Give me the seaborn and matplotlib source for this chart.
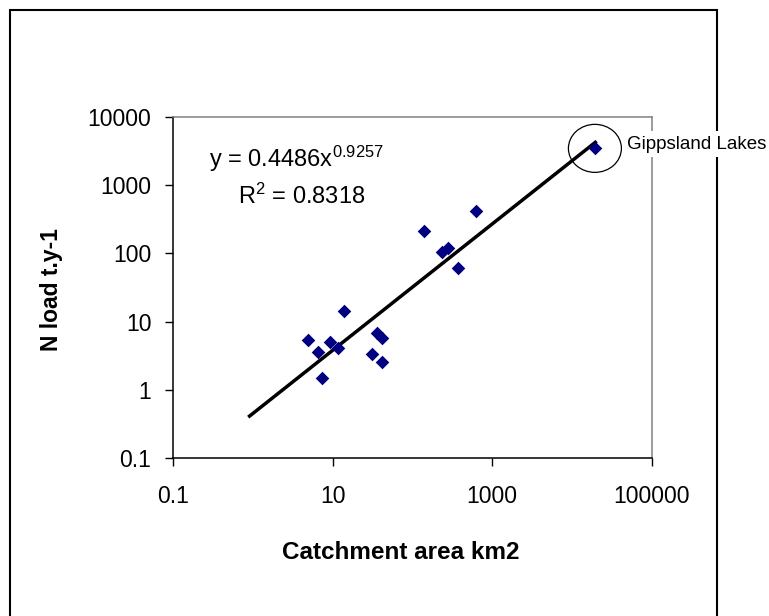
import matplotlib
matplotlib.use("Agg")
import matplotlib.pyplot as plt
from matplotlib.patches import Ellipse, Rectangle
from matplotlib.transforms import ScaledTranslation
from matplotlib.ticker import FixedLocator, FixedFormatter, NullLocator
import seaborn as sns
import pandas as pd

# ---- data ----
catchment_area = [4.85, 6.47, 7.26, 9.23, 11.7, 13.8, 30.8, 35.6, 41.1, 41.1,
                  139, 232, 281, 375, 625, 19400]
n_load = [5.35, 3.64, 1.51, 5.09, 4.08, 14.5, 3.37, 6.9, 5.7, 2.6,
          215, 103, 121, 61.7, 417, 3440]
trend_x = [0.87, 20400]
trend_y = [0.40, 4370]
x_ticks = [0.1, 10, 1000, 100000]
x_tick_labels = ["0.1", "10", "1000", "100000"]
y_ticks = [0.1, 1, 10, 100, 1000, 10000]
y_tick_labels = ["0.1", "1", "10", "100", "1000", "10000"]
equation_text = r"y = 0.4486x$^{\mathregular{0.9257}}$"
r2_text = r"R$^{\mathregular{2}}$ = 0.8318"
highlight_label = "Gippsland Lakes"

sns.set_style("white")
plt.rcParams["font.family"] = ["Liberation Sans", "DejaVu Sans"]
plt.rcParams["mathtext.fontset"] = "custom"
plt.rcParams["mathtext.rm"] = "Liberation Sans"
plt.rcParams["mathtext.it"] = "Liberation Sans:italic"
plt.rcParams["mathtext.bf"] = "Liberation Sans:bold"
plt.rcParams["text.color"] = "black"
plt.rcParams["axes.labelcolor"] = "black"

df = pd.DataFrame({"area": catchment_area, "load": n_load})
tdf = pd.DataFrame({"x": trend_x, "y": trend_y})

fig = plt.figure(figsize=(7.69, 6.16), dpi=100)
fig.patch.set_facecolor("white")
ax = fig.add_axes([173.3 / 769, 1 - 458.3 / 616, 478.4 / 769, 341.6 / 616])
ax.set_facecolor("white")

ax.set_xscale("log")
ax.set_yscale("log")

sns.lineplot(data=tdf, x="x", y="y", ax=ax, color="black", linewidth=2.5,
             solid_capstyle="butt", zorder=2)
sns.scatterplot(data=df, x="area", y="load", ax=ax, marker="D", s=48,
                color="#000080", linewidth=0, zorder=3)

ax.set_xlim(0.1, 100000)
ax.set_ylim(0.1, 10000)

ax.xaxis.set_major_locator(FixedLocator(x_ticks))
ax.xaxis.set_major_formatter(FixedFormatter(x_tick_labels))
ax.yaxis.set_major_locator(FixedLocator(y_ticks))
ax.yaxis.set_major_formatter(FixedFormatter(y_tick_labels))
ax.xaxis.set_minor_locator(NullLocator())
ax.yaxis.set_minor_locator(NullLocator())

ax.tick_params(axis="both", which="major", direction="out", length=5.8,
               width=1.0, color="black", labelsize=16.5, labelcolor="black",
               left=True, bottom=True)
ax.tick_params(axis="x", pad=13.5)
ax.tick_params(axis="y", pad=10)

for side in ["left", "bottom"]:
    ax.spines[side].set_color("black")
    ax.spines[side].set_linewidth(1.1)
for side in ["top", "right"]:
    ax.spines[side].set_color("#808080")
    ax.spines[side].set_linewidth(1.1)
    ax.spines[side].set_visible(True)

ax.set_xlabel("Catchment area km2", fontsize=17.5, fontweight="bold",
              color="black")
ax.set_ylabel("N load t.y-1", fontsize=16.5, fontweight="bold", color="black")
ax.xaxis.set_label_coords(0.476, -0.277)
ax.xaxis.label.set_va("center")
ax.yaxis.set_label_coords(-0.2546, 0.4927)
ax.yaxis.label.set_va("center")
ax.yaxis.label.set_ha("center")

ax.text(0.0746, 0.854, equation_text, transform=ax.transAxes, fontsize=17,
        ha="left", va="baseline", color="black")
ax.text(0.135, 0.7437, r2_text, transform=ax.transAxes, fontsize=17,
        ha="left", va="baseline", color="black")

# circle around the highlighted point
hx, hy = catchment_area[-1], n_load[-1]
trans = fig.dpi_scale_trans + ScaledTranslation(hx, hy, ax.transData)
ax.add_patch(Ellipse((0, 0), 0.53, 0.48, transform=trans, fill=False,
                     edgecolor="black", linewidth=0.9, clip_on=False, zorder=4))
ax.annotate(highlight_label, xy=(hx, hy), xytext=(23, 3),
            textcoords="offset points", ha="left", va="center", fontsize=13.5,
            color="black", annotation_clip=False, zorder=6,
            bbox=dict(boxstyle="square,pad=0.25", facecolor="white",
                      edgecolor="none"))

# outer chart border
fig.add_artist(Rectangle((10 / 769, -0.05), (717 - 10) / 769,
                         1 - 9.5 / 616 + 0.05, transform=fig.transFigure,
                         fill=False, edgecolor="black", linewidth=1.5,
                         zorder=-1))

legend = ax.get_legend()
if legend is not None:
    legend.remove()

fig.savefig("out.png", dpi=100, facecolor="white")
